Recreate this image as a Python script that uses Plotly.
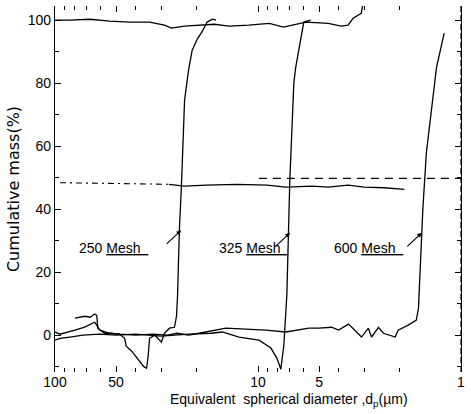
import plotly.graph_objects as go
import numpy as np

# ---- data: diameter (µm) and cumulative mass (%) ----
top_d = [100, 84.4, 67.3, 53.8, 42.9, 34.2, 28.9, 26.7, 23.0, 19.5, 16.4, 13.9, 11.1,
         8.8, 7.5, 5.8, 4.5, 3.9, 3.6, 3.4, 3.1, 3.05]
top_m = [100.0, 100.0, 100.3, 99.7, 99.4, 99.4, 98.4, 97.5, 98.1, 98.4, 98.7, 98.1, 98.4,
         99.0, 97.8, 99.4, 99.0, 98.1, 98.4, 100.6, 102.2, 104.8]

mid_dash_d = [94.5, 75.0, 60.0, 45.0, 34.0, 27.5]
mid_dash_m = [48.4, 48.3, 48.1, 48.0, 47.9, 47.9]
mid_d = [27.5, 23.0, 18.0, 12.7, 9.0, 7.3, 5.4, 4.5, 3.6, 3.0, 2.4, 1.9]
mid_m = [47.9, 47.3, 47.6, 47.9, 47.6, 47.0, 47.3, 47.0, 47.6, 47.0, 46.8, 46.3]

half_d = [9.9, 1.0]
half_m = [49.8, 49.8]

m250_d = [100, 94.5, 79.8, 72.0, 63.7, 60.2, 53.8, 48.0, 45.4, 44.6, 42.0, 39.0, 36.5,
          35.4, 34.8, 34.2, 32.3, 31.6, 29.9, 28.9, 27.3, 25.8, 25.2, 24.9, 24.4, 23.8,
          23.0, 22.0, 21.1, 19.9, 18.8, 17.8, 16.8, 16.1]
m250_m = [1.0, 0.3, 1.6, 2.5, 4.1, 1.6, 0.6, 0.3, -1.0, -3.5, -5.0, -7.5, -10.0,
          -10.5, -7.0, -1.0, 0.0, -0.6, -2.2, 0.6, 2.2, 2.5, 6.0, 12.7, 33.3, 48.3,
          74.6, 84.0, 90.5, 94.0, 96.5, 99.4, 100.3, 100.0]

m325_d = [100, 94.5, 84.4, 72.9, 60.2, 50.0, 40.0, 30.0, 22.0, 17.0, 15.0, 12.4, 9.89,
          8.64, 8.07, 7.72, 7.46, 7.21, 6.97, 6.66, 6.52, 6.15, 5.95, 5.5]
m325_m = [-1.6, -1.0, -0.6, 0.0, 0.3, 0.0, 0.3, -0.3, 0.3, 0.6, 1.0, -0.6, -1.6,
          -4.1, -7.3, -10.8, -3.2, 12.7, 49.2, 80.0, 85.0, 93.7, 99.4, 100.0]

m600_d = [79.8, 75.4, 71.3, 67.3, 63.7, 62.3, 61.5, 57.0, 53.8, 48.0, 40.0, 33.0, 28.0,
          25.0, 22.0, 19.5, 14.4, 9.14, 7.29, 5.62, 5.02, 4.34, 4.01, 3.58, 3.09, 2.86,
          2.76, 2.55, 2.41, 2.11, 2.04, 1.82, 1.66, 1.62, 1.61, 1.57, 1.54, 1.48, 1.45,
          1.40, 1.32, 1.21]
m600_m = [5.4, 5.7, 6.0, 5.7, 6.7, 6.3, 2.2, 0.6, 0.6, 0.3, 0.0, 0.3, 0.0,
          0.6, 0.0, 0.6, 2.2, 1.6, 1.0, 2.2, 2.2, 2.5, 1.6, 3.5, -0.6, 2.2,
          -0.6, 2.5, 0.6, -0.6, 1.6, 3.2, 4.8, 8.6, 12.7, 32.4, 40.6, 58.1, 63.0,
          71.0, 85.0, 95.9]

label_num = ["250", "325", "600"]
label_d = [51.4, 10.5, 2.86]
label_m = [27.6, 27.6, 27.6]
arrow_d = [23.9, 6.95, 1.56]
arrow_m = [33.3, 32.5, 32.5]

x_tickvals = [100, 50, 10, 5, 1]
x_ticktext = ["100", "50", "10", "5", "1"]
x_minor = [90, 80, 70, 60, 40, 30, 20, 9, 8, 7, 6, 4, 3, 2]
y_tickvals = [0, 20, 40, 60, 80, 100]

FONT = "Liberation Sans, Arial, sans-serif"
line = dict(color="black", width=1.3)

fig = go.Figure()
fig.add_trace(go.Scatter(x=top_d, y=top_m, mode="lines", line=line))
fig.add_trace(go.Scatter(x=mid_dash_d, y=mid_dash_m, mode="lines",
                         line=dict(color="black", width=1.1, dash="6px,4px,2px,4px")))
fig.add_trace(go.Scatter(x=mid_d, y=mid_m, mode="lines", line=line))
fig.add_trace(go.Scatter(x=half_d, y=half_m, mode="lines",
                         line=dict(color="black", width=1.2, dash="8px,6px")))
for d, m in [(m250_d, m250_m), (m325_d, m325_m), (m600_d, m600_m)]:
    fig.add_trace(go.Scatter(x=d, y=m, mode="lines", line=line))

for num, ld, lm, ad, am in zip(label_num, label_d, label_m, arrow_d, arrow_m):
    fig.add_annotation(x=np.log10(ld), y=lm, showarrow=False,
                       text=num + " <u>Mesh\u00a0\u00a0</u>", xanchor="center",
                       font=dict(family=FONT, size=14, color="black"))
    fig.add_annotation(x=np.log10(ad), y=am, text="", showarrow=True,
                       arrowhead=2, arrowsize=0.8, arrowwidth=1.2, arrowcolor="black",
                       ax=-16, ay=15)

# right border (dashed)
fig.add_shape(type="line", xref="paper", yref="paper", x0=1, x1=1, y0=0, y1=1,
              line=dict(color="black", width=1.2, dash="6px,3px"))

# x-axis title placed as an annotation (off-centre like the original)
fig.add_annotation(xref="paper", yref="paper", x=0.576, y=-0.077, yanchor="middle",
                   text="Equivalent  spherical diameter ,d<sub>p</sub>(µm)", showarrow=False,
                   font=dict(family=FONT, size=14, color="black"))

fig.update_xaxes(type="log", range=[2, 0], tickvals=x_tickvals, ticktext=x_ticktext,
                 ticks="inside", ticklen=6, tickwidth=1.2, tickcolor="black",
                 mirror="ticks", showline=False, showgrid=False, zeroline=False,
                 minor=dict(tickvals=x_minor, ticks="inside", ticklen=4,
                            tickcolor="black", showgrid=False),
                 tickfont=dict(family=FONT, size=14, color="black"))
fig.update_yaxes(range=[-11.7, 104.5], tickvals=y_tickvals,
                 ticks="inside", ticklen=6, tickwidth=1.2, tickcolor="black",
                 mirror="ticks", showline=True, linecolor="black", linewidth=1.3,
                 showgrid=False, zeroline=False,
                 minor=dict(dtick=10, ticks="inside", ticklen=4, tickcolor="black",
                            showgrid=False),
                 tickfont=dict(family=FONT, size=14, color="black"),
                 title=dict(text="Cumulative mass(%)",
                            font=dict(family="DejaVu Sans", size=16, color="black"),
                            standoff=4))

fig.update_layout(width=471, height=414, margin=dict(l=55, r=8, t=6, b=42),
                  paper_bgcolor="white", plot_bgcolor="white", showlegend=False)

fig.write_html("out.html")
